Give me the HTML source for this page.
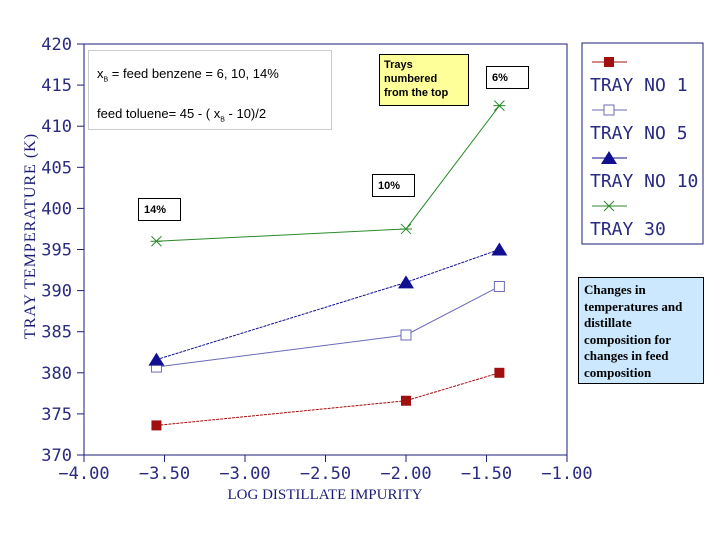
<!DOCTYPE html>
<html><head><meta charset="utf-8"><style>
body{margin:0;width:720px;height:540px;background:#fff;overflow:hidden;font-family:"Liberation Sans",sans-serif}
svg{position:absolute;left:0;top:0}
.box{position:absolute;box-sizing:border-box}
</style></head><body>
<svg id="chart" width="720" height="540"></svg>
<div class="box" style="left:88px;top:50px;width:244px;height:80px;border:1px solid #ccc;font-size:13px;padding:13px 0 0 8px;line-height:20px">
<div>x<sub style="font-size:7px">B</sub> = feed benzene = 6, 10, 14%</div><div style="margin-top:13px">feed toluene= 45 - ( x<sub style="font-size:7px">B</sub> - 10)/2</div></div>
<div class="box" style="left:379px;top:54px;width:90px;height:52px;border:1px solid #000;background:#ffff99;font-size:11px;font-weight:bold;padding:3px 4px;line-height:14px">Trays numbered from the top</div>
<div class="box" style="left:486px;top:66px;width:43px;height:23px;border:1px solid #000;font-size:11px;font-weight:bold;padding:5px 5px">6%</div>
<div class="box" style="left:372px;top:174px;width:43px;height:23px;border:1px solid #000;font-size:11px;font-weight:bold;padding:5px 5px;background:#fff">10%</div>
<div class="box" style="left:138px;top:198px;width:43px;height:23px;border:1px solid #000;font-size:11px;font-weight:bold;padding:5px 5px;background:#fff">14%</div>
<div class="box" style="left:578px;top:277px;width:126px;height:107px;border:1px solid #000;background:#cce8ff;font-family:'Liberation Serif',serif;font-size:13px;font-weight:bold;padding:4px 10px 0 5px;line-height:16.6px">Changes in temperatures and distillate composition for changes in feed composition</div>
<script>
const xVals=[-3.55,-2.0,-1.42];
const tray1=[373.6,376.6,380.0];
const tray5=[380.7,384.6,390.5];
const tray10=[381.6,391.0,395.0];
const tray30=[396.0,397.5,412.5];
const xTicks=[-4,-3.5,-3,-2.5,-2,-1.5,-1];
const yTicks=[370,375,380,385,390,395,400,405,410,415,420];
const NS='http://www.w3.org/2000/svg';
const svg=document.getElementById('chart');
const X=v=>84+(v+4)*161;
const Y=v=>455-(v-370)*8.22;
const navy='#1c1c78';
const lab='#2a2a80';
function el(t,a,p){const e=document.createElementNS(NS,t);for(const k in a)e.setAttribute(k,a[k]);(p||svg).appendChild(e);return e;}
const frame=el('rect',{x:84,y:44,width:483,height:411,fill:'none',stroke:navy,'stroke-width':1});


xTicks.forEach(t=>{
 const l=el('line',{x1:X(t),x2:X(t),y1:455,y2:462,stroke:navy});
 
 
 const tx=el('text',{x:X(t),y:479,'text-anchor':'middle','font-size':17,fill:lab,'font-family':'DejaVu Sans Mono, Liberation Mono, monospace'});
 tx.textContent=(t<0?'\u2212':'')+Math.abs(t).toFixed(2);
 
 
});
yTicks.forEach(t=>{
 const l=el('line',{x1:77,x2:84,y1:Y(t),y2:Y(t),stroke:navy});
 
 
 const tx=el('text',{x:72,y:Y(t)+6,'text-anchor':'end','font-size':17,fill:lab,'font-family':'DejaVu Sans Mono, Liberation Mono, monospace'});
 tx.textContent=t;
 
 
});
const xt=el('text',{x:325,y:499,'text-anchor':'middle','font-size':15,fill:navy,'font-family':'Liberation Serif, serif'});
xt.textContent='LOG DISTILLATE IMPURITY';


const yt=el('text',{x:0,y:0,'text-anchor':'middle','font-size':16,fill:navy,'font-family':'Liberation Serif, serif',transform:'translate(35,236) rotate(-90)','letter-spacing':'1'});
yt.textContent='TRAY TEMPERATURE (K)';


function marker(kind,x,y,c,g){
 if(kind==='fsq')return el('rect',{x:x-5,y:y-5,width:10,height:10,fill:c},g);
 if(kind==='osq')return el('rect',{x:x-5,y:y-5,width:10,height:10,fill:'#fff',stroke:c},g);
 if(kind==='tri')return el('polygon',{points:`${x},${y-7} ${x-8},${y+6} ${x+8},${y+6}`,fill:c},g);
 return el('path',{d:`M${x-5},${y-5}L${x+5},${y+5}M${x-5},${y+5}L${x+5},${y-5}M${x-6},${y}L${x+6},${y}`,stroke:c,fill:'none'},g);
}
const series=[[tray1,'#a01010','fsq','tray-1'],[tray5,'#6a6ab8','osq','tray-5'],[tray10,'#101090','tri','tray-10'],[tray30,'#2a8a2a','x','tray-30']];
series.forEach(([d,c,k,n])=>{
 const g=el('g',{});
 
 
 const ln=el('polyline',{points:d.map((v,i)=>X(xVals[i])+','+Y(v)).join(' '),fill:'none',stroke:c,'stroke-width':1,'stroke-dasharray':k==='x'||k==='osq'?'none':'3,1'},g);
 
 
 d.forEach((v,i)=>{const m=marker(k,X(xVals[i]),Y(v),c,g);
  
  });
});
const lg=el('g',{});


el('rect',{x:582,y:43,width:121,height:201,fill:'#fff',stroke:navy},lg);
const names=['TRAY NO 1','TRAY NO 5','TRAY NO 10','TRAY 30'];
series.forEach(([d,c,k,n],i)=>{
 const y0=62+i*48;
 el('line',{x1:592,x2:627,y1:y0,y2:y0,stroke:c},lg);
 const m=marker(k,609,y0,c,lg);
 
 
 const t=el('text',{x:590,y:y0+29,'font-size':18,fill:lab,'font-family':'DejaVu Sans Mono, Liberation Mono, monospace'},lg);
 t.textContent=names[i];
 
 
});
</script>
</body></html>
